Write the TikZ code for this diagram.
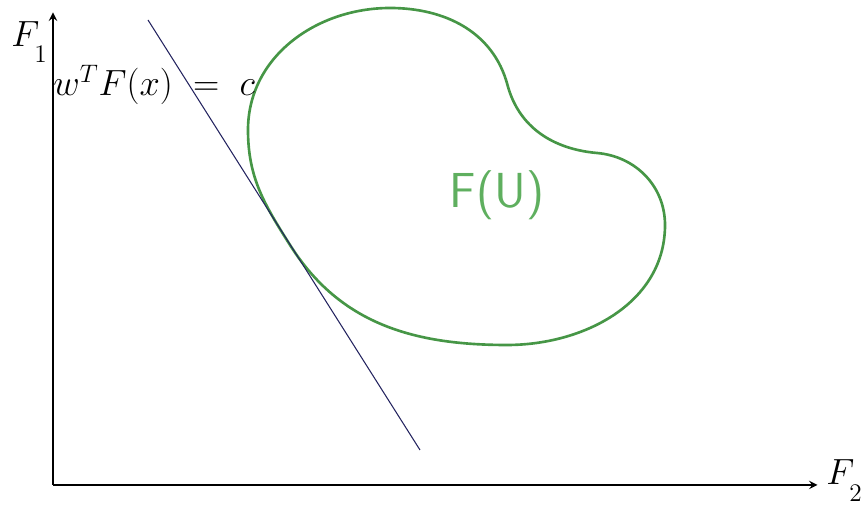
\documentclass[tikz,border=0pt]{standalone}
\usepackage{amsmath,amssymb}
\usepackage{tikz}
\usetikzlibrary{arrows,positioning}

\definecolor{blobgreen}{RGB}{70,150,70}
\definecolor{labelgreen}{RGB}{95,175,95}
\definecolor{linenavy}{RGB}{35,35,95}
\newcommand{\lowsub}[1]{_{\lower 6pt\hbox{$\scriptstyle #1$}}}

\begin{document}
\begin{tikzpicture}
\useasboundingbox (0,0) rectangle (17.32,10.2);
\coordinate (O) at (1.06,0.5);
\coordinate (ytop) at (1.06,9.95);
\coordinate (xend) at (16.35,0.5);
\draw[-stealth,line width=1.1pt] (O) -- (ytop);
\draw[-stealth,line width=1.1pt] (O) -- (xend);
\node[anchor=base west,font=\huge,inner sep=0pt] (f1) at (0.22,9.26) {$F\lowsub{1}$};
\node[anchor=base west,font=\huge,inner sep=0pt] (f2) at (16.52,0.5) {$F\lowsub{2}$};
% the set F(U)
\draw[blobgreen,line width=1.5pt]
  (7.8,10.04) to[out=0,in=105] (10.15,8.5)
  to[out=-75,in=175] (11.94,7.14)
  to[out=-5,in=90] (13.3,5.7)
  to[out=-90,in=0] (10.14,3.3)
  to[out=180,in=-57.7] (5.8,5.3)
  to[out=122.3,in=-90] (4.96,7.6)
  to[out=90,in=180] cycle;
\node[labelgreen,font=\fontsize{28}{30}\selectfont\sffamily] (fu) at (9.94,6.3) {F(U)};
% supporting line
\coordinate (la) at (2.96,9.8);
\coordinate (lb) at (8.4,1.2);
\draw[linenavy,line width=0.6pt] (la) -- (lb);
\node[anchor=base west,font=\huge,inner sep=0pt] (wf) at (1.06,8.28) {$w^{T}F(x)\;=\;c$};
\end{tikzpicture}
\end{document}
